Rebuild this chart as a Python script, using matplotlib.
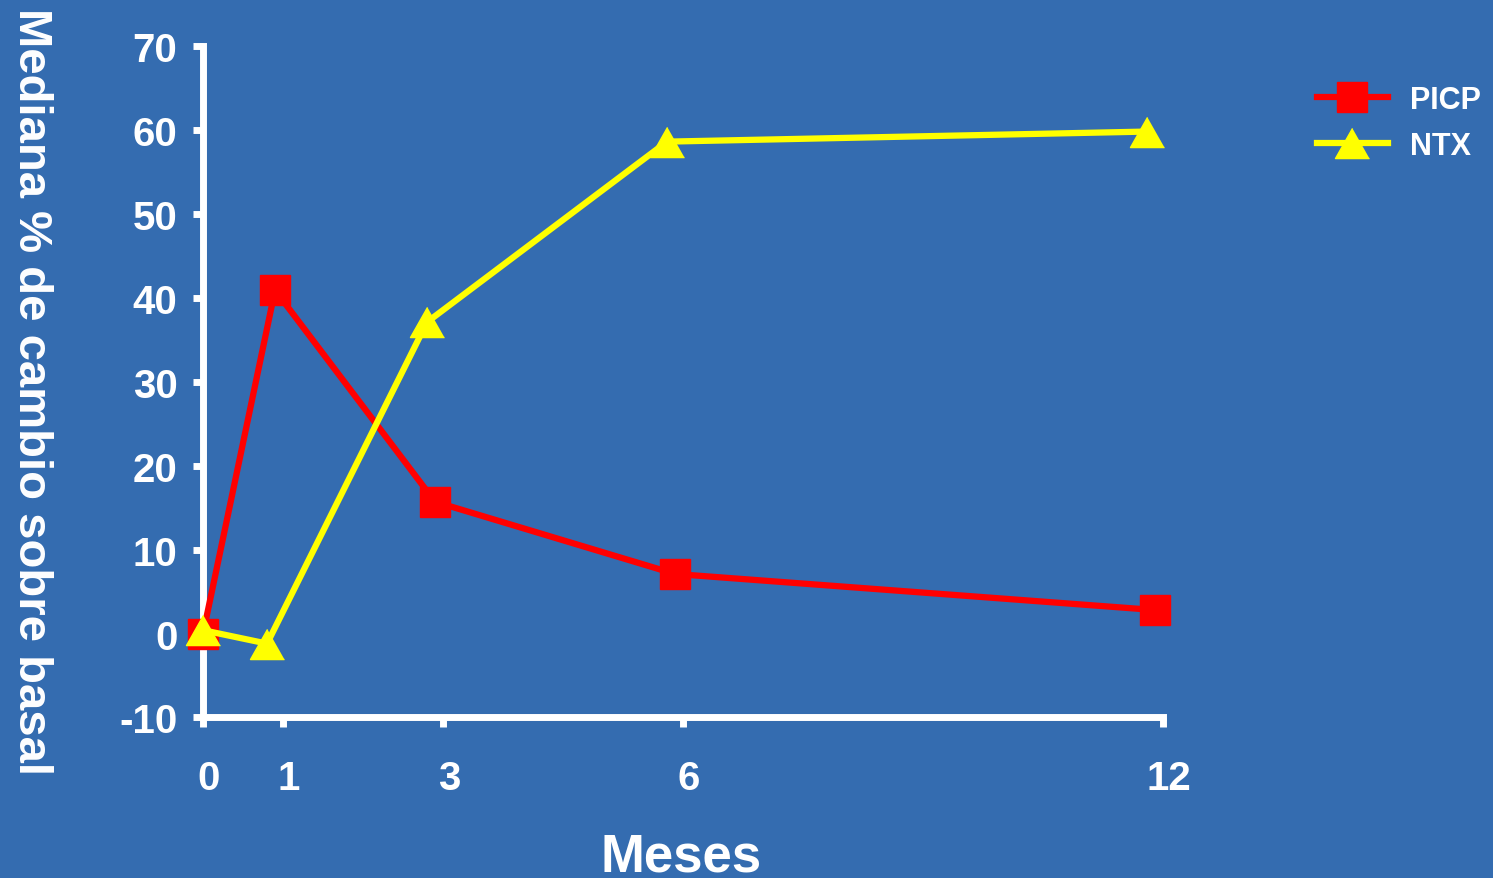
import matplotlib
matplotlib.use("Agg")
import matplotlib.pyplot as plt
import matplotlib.transforms as mtransforms
from matplotlib import font_manager

# median % change from baseline at each visit (months)
meses_ticks = [0, 1, 3, 6, 12]
picp_x = [0, 0.9, 2.9, 5.9, 11.9]
picp_y = [0, 40.9, 15.7, 7.1, 2.8]
ntx_x = [0, 0.8, 2.8, 5.8, 11.8]
ntx_y = [0.4, -1.2, 37.1, 58.6, 59.8]
y_ticks = [-10, 0, 10, 20, 30, 40, 50, 60, 70]

bg = "#346CB0"
plt.rcParams["font.family"] = ["Liberation Sans", "DejaVu Sans"]
plt.rcParams["font.weight"] = "bold"
plt.rcParams["axes.unicode_minus"] = False

fig = plt.figure(figsize=(14.93, 8.79), dpi=100, facecolor=bg)
ax = fig.add_axes([0.136, 0.1826, 0.643, 0.764])
ax.set_facecolor(bg)

tri = [(0, 1), (-1.13, -1), (1.13, -1)]
ax.plot(picp_x, picp_y, color="#FF0000", lw=4.5, marker="s", ms=21.6,
        mec="#FF0000", label="PICP", clip_on=False, zorder=3)
ax.plot(ntx_x, ntx_y, color="#FFFF00", lw=4.5, marker=tri, ms=24.5,
        mec="#FFFF00", label="NTX", clip_on=False, zorder=4)

ax.set_xlim(0, 12)
ax.set_ylim(-10, 70)
ax.set_xticks(meses_ticks)
ax.set_yticks(y_ticks)

for s in ["top", "right"]:
    ax.spines[s].set_visible(False)
for s in ["left", "bottom"]:
    ax.spines[s].set_color("white")
    ax.spines[s].set_linewidth(5)

ax.tick_params(axis="both", colors="white", width=5, length=7, direction="out",
               labelsize=29)
ax.tick_params(axis="x", pad=23)
ax.tick_params(axis="y", pad=11.5)
shift = mtransforms.ScaledTranslation(0.06, 0, fig.dpi_scale_trans)
for lbl in ax.get_xticklabels():
    lbl.set_transform(lbl.get_transform() + shift)
    lbl.set_fontweight("bold")
for lbl in ax.get_yticklabels():
    lbl.set_fontweight("bold")

leg = ax.legend(loc="upper left", bbox_to_anchor=(1317 / 1493, 1 - 86 / 879),
                bbox_transform=fig.transFigure, frameon=False, fontsize=22,
                handlelength=2.32, handletextpad=0.72, labelspacing=0.51,
                borderpad=0, borderaxespad=0, markerscale=1.0)
for t in leg.get_texts():
    t.set_color("white")
    t.set_fontweight("bold")

# condensed face for the long vertical title when available
names = {f.name for f in font_manager.fontManager.ttflist}
if "Liberation Sans Narrow" in names:
    ylab_family, ylab_size = ["Liberation Sans Narrow", "Liberation Sans"], 41
else:
    ylab_family, ylab_size = ["Liberation Sans", "DejaVu Sans"], 34
fig.text(31 / 1493, 1 - 392 / 879, "Mediana % de cambio sobre basal",
         rotation=270, ha="center", va="center", color="white",
         fontsize=ylab_size, fontweight="bold", family=ylab_family)
fig.text(681 / 1493, 7 / 879, "Meses", ha="center", va="baseline",
         color="white", fontsize=38, fontweight="bold")

fig.savefig("out.png", dpi=100, facecolor=bg)
